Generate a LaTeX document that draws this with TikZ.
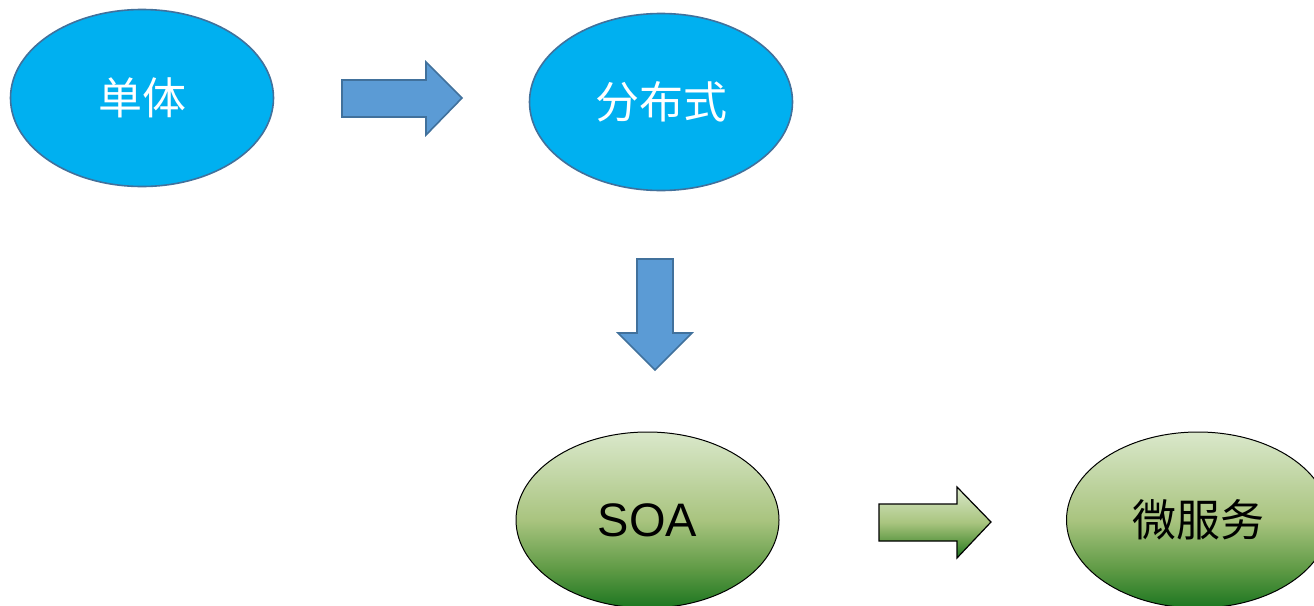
\documentclass[tikz,border=0pt]{standalone}
\usepackage{fontspec}
\setmainfont{Liberation Sans}
\newfontfamily\cjk{Noto Sans CJK SC}
\usetikzlibrary{shapes.geometric}
\definecolor{skyfill}{HTML}{00B0F0}
\definecolor{blueedge}{HTML}{41719C}
\definecolor{arrowfill}{HTML}{5B9BD5}
\definecolor{gtop}{HTML}{DAE8CB}
\definecolor{gmid}{HTML}{A9C47F}
\definecolor{glow}{HTML}{5F9A45}
\definecolor{gbot}{HTML}{1C7620}
\pgfdeclareverticalshading{greengrad}{100bp}{color(0bp)=(gbot); color(25bp)=(gbot); color(36bp)=(glow); color(50bp)=(gmid); color(75bp)=(gtop); color(100bp)=(gtop)}
\tikzset{
  blueell/.style={ellipse, draw=blueedge, line width=1.6pt, fill=skyfill,
    minimum width=263pt, minimum height=177pt, inner sep=0pt, text=white,
    font=\cjk\fontsize{44}{50}\selectfont},
  greenell/.style={ellipse, draw=black, line width=1pt, shading=greengrad,
    minimum width=263pt, minimum height=176pt, inner sep=0pt, text=black},
  bluearrow/.style={draw=blueedge, line width=1.6pt, fill=arrowfill, line join=miter},
  greenarrow/.style={draw=black, line width=1.2pt, shading=greengrad, line join=miter}
}
\begin{document}
\begin{tikzpicture}[x=1pt,y=-1pt]
\useasboundingbox (0,0) rectangle (1314,605);
\node[blueell] (mono) at (142,98) {单体};
\node[blueell] (dist) at (661,102) {分布式};
\node[greenell, font=\fontsize{47}{54}\selectfont] (soa) at (647.5,520) {SOA};
\node[greenell, font=\cjk\fontsize{44}{50}\selectfont] (micro) at (1198,520) {微服务};
% block arrows
\draw[bluearrow] (342,80) -- (426,80) -- (426,62) -- (462,98) -- (426,135) -- (426,117) -- (342,117) -- cycle;
\draw[bluearrow] (637,259) -- (673,259) -- (673,333) -- (692,333) -- (655,370) -- (618,333) -- (637,333) -- cycle;
\draw[greenarrow] (879,504) -- (957,504) -- (957,487) -- (991,522) -- (957,558) -- (957,541) -- (879,541) -- cycle;
\end{tikzpicture}
\end{document}
